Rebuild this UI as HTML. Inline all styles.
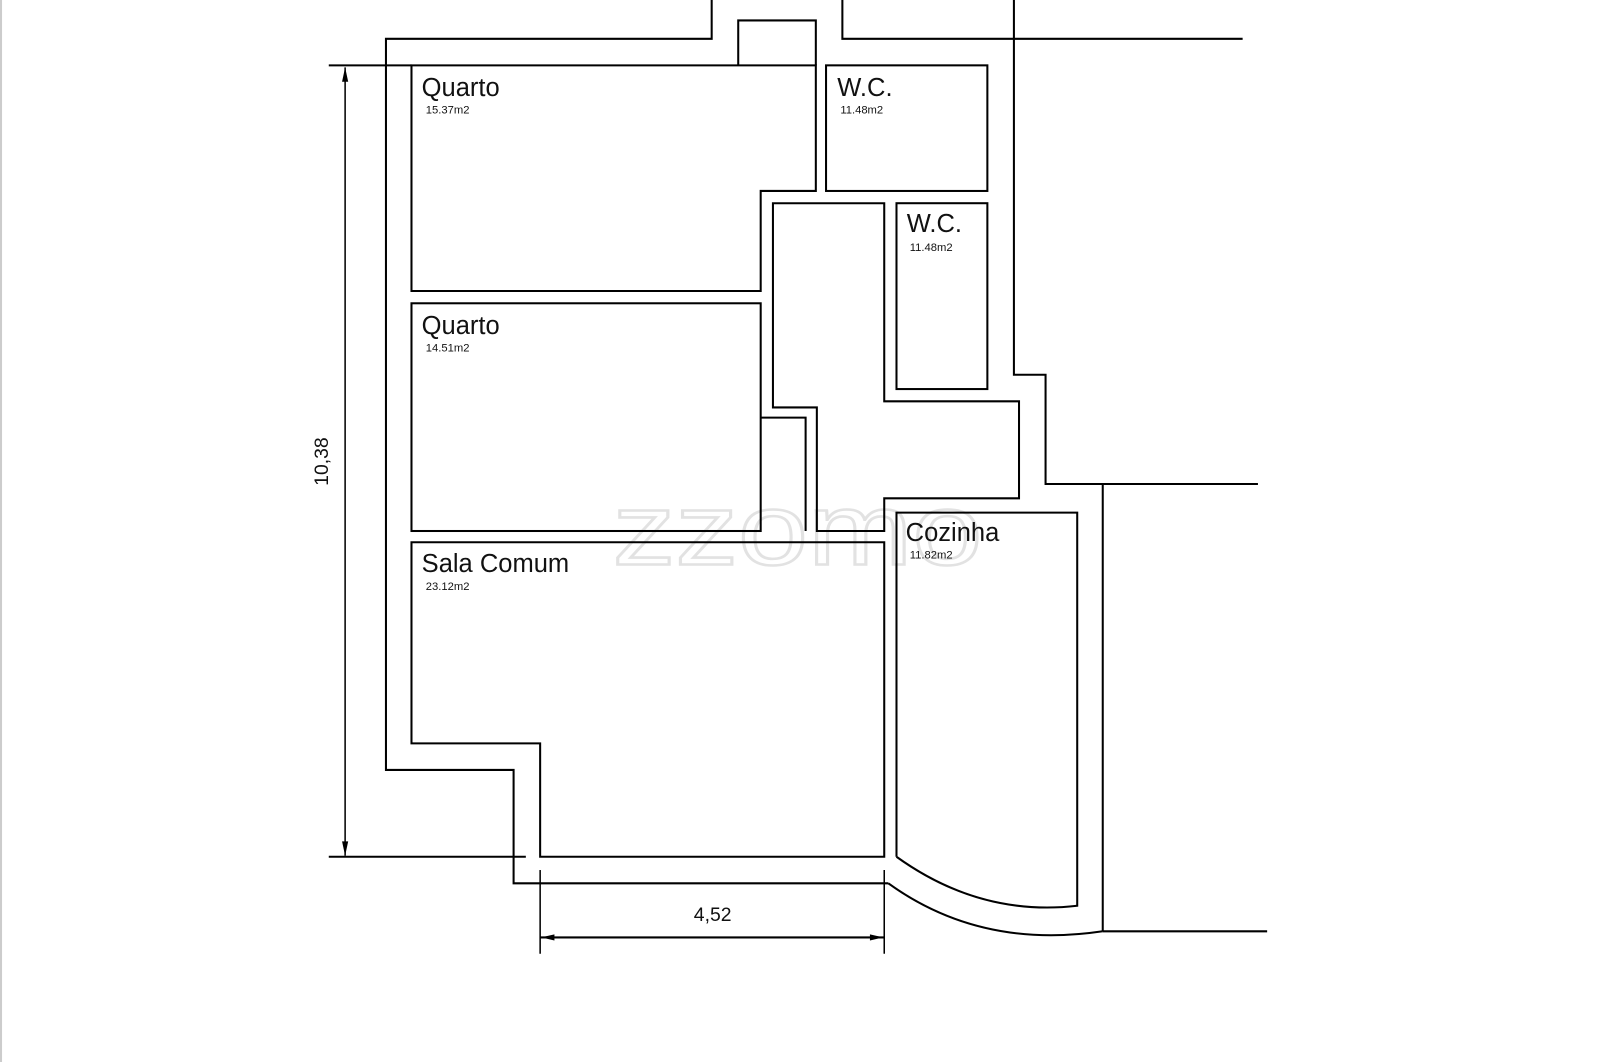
<!DOCTYPE html>
<html><head><style>html,body{margin:0;padding:0;background:#fff;width:1600px;height:1062px;overflow:hidden}</style></head>
<body>
<svg width="1600" height="1062" viewBox="0 0 1567 1040" preserveAspectRatio="none" xmlns="http://www.w3.org/2000/svg" font-family="Liberation Sans, sans-serif">
<rect x="0" y="0" width="1567" height="1040" fill="#fff"/>
<line x1="1" y1="0" x2="1" y2="1040" stroke="#ccc" stroke-width="2"/>
<text x="600" y="553" font-size="100" textLength="362" lengthAdjust="spacingAndGlyphs" fill="none" stroke="#e2e2e2" stroke-width="2.5">zzomo</text>
<g fill="none" stroke="#000" stroke-width="2">
<polyline points="697,0 697,38 378,38 378,754 503,754 503,865 870,865"/>
<path d="M870,865 Q960,930 1080,912"/>
<polyline points="1080,912 1080,474 1024,474 1024,367 993,367 993,0"/>
<polyline points="825,0 825,38 1217,38"/>
<line x1="1080" y1="474" x2="1232" y2="474"/>
<line x1="1080" y1="912" x2="1241" y2="912"/>
<polyline points="723,64 723,20 799,20 799,64"/>
<polygon points="403,64 799,64 799,187 745,187 745,285 403,285"/>
<line x1="322" y1="64" x2="403" y2="64"/>
<rect x="809" y="64" width="158" height="123"/>
<rect x="878" y="199" width="89" height="182"/>
<polygon points="757,199 866,199 866,393 998,393 998,488 866,488 866,520 800,520 800,399 757,399"/>
<rect x="403" y="297" width="342" height="223"/>
<polyline points="745,409 789,409 789,520"/>
<polygon points="403,531 866,531 866,839 529,839 529,728 403,728"/>
<path d="M878,839 L878,502 L1055,502 L1055,887 Q960,898 878,839"/>
<line x1="338" y1="66" x2="338" y2="838" stroke-width="1.5"/>
<line x1="322" y1="839" x2="515" y2="839"/>
<line x1="529" y1="852" x2="529" y2="934" stroke-width="1.5"/>
<line x1="866" y1="852" x2="866" y2="934" stroke-width="1.5"/>
<line x1="529" y1="918" x2="866" y2="918"/>
</g>
<g fill="#000">
<polygon points="338,66 335,80 341,80"/>
<polygon points="338,838 335,824 341,824"/>
<polygon points="530,918 543,915 543,921"/>
<polygon points="865,918 852,915 852,921"/>
</g>
<g fill="#111">
<text x="413" y="94" font-size="25">Quarto</text>
<text x="417" y="111" font-size="11">15.37m2</text>
<text x="820" y="94" font-size="25">W.C.</text>
<text x="823" y="111" font-size="11">11.48m2</text>
<text x="888" y="227" font-size="25">W.C.</text>
<text x="891" y="246" font-size="11">11.48m2</text>
<text x="413" y="327" font-size="25">Quarto</text>
<text x="417" y="344" font-size="11">14.51m2</text>
<text x="413" y="560" font-size="25">Sala Comum</text>
<text x="417" y="578" font-size="11">23.12m2</text>
<text x="887" y="530" font-size="25">Cozinha</text>
<text x="891" y="547" font-size="11">11.82m2</text>
<text x="698" y="902" font-size="19" text-anchor="middle">4,52</text>
<text transform="translate(321,452) rotate(-90)" font-size="19" text-anchor="middle">10,38</text>
</g>
</svg>
</body></html>
